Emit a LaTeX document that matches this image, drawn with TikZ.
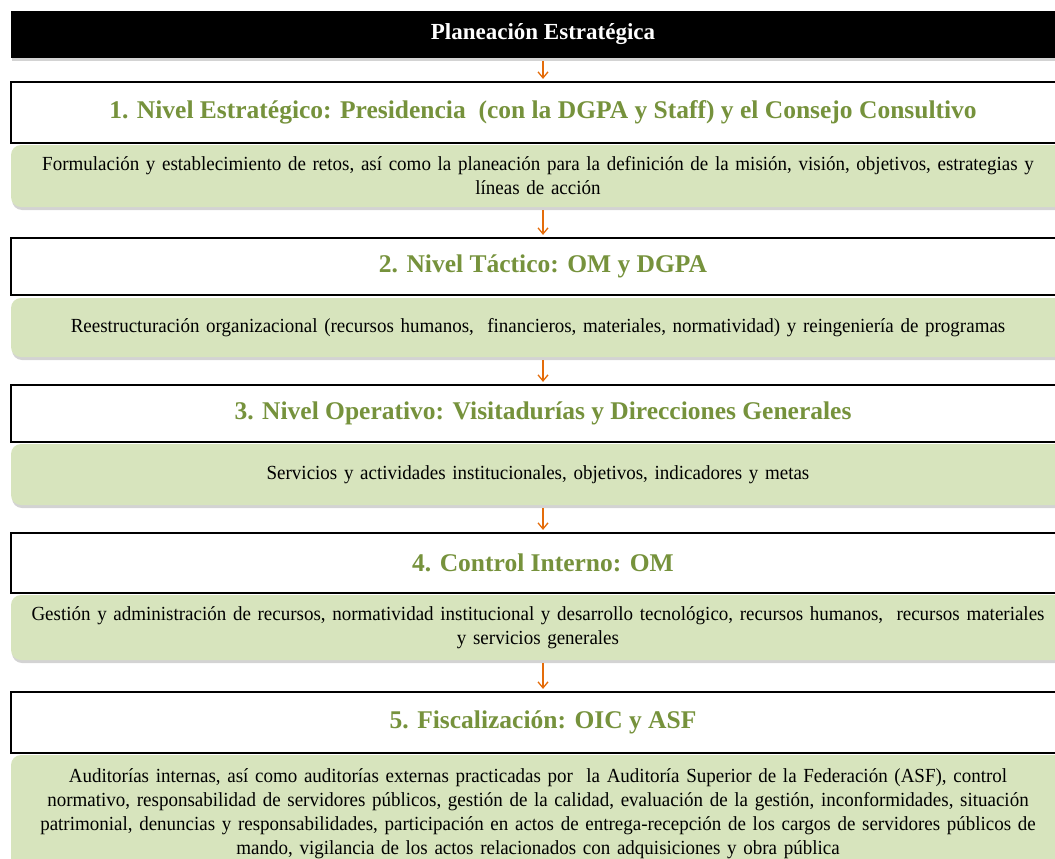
\documentclass[tikz,border=0pt]{standalone}
\usepackage{fontspec}
\setmainfont{Liberation Serif}
\newfontfamily\bodyfont[FakeStretch=0.95]{Liberation Serif}
\usetikzlibrary{arrows.meta,shadows}
\definecolor{olivetext}{RGB}{118,146,60}
\definecolor{sagefill}{RGB}{215,228,189}
\definecolor{arroworange}{RGB}{228,108,10}
\hyphenpenalty=10000

\begin{document}
\begin{tikzpicture}[x=1pt,y=-1pt]
	\useasboundingbox (0,0) rectangle (1055,859);
	\begin{scope}[every node/.style={rectangle,minimum width=1064pt,inner sep=0pt},
	              level/.style={draw=black,line width=2.2pt,fill=white,text=olivetext,
	                            font=\bfseries\fontsize{25.5}{29}\selectfont},
	              detail/.style={fill=sagefill,rounded corners=10pt,minimum width=1054pt,
	                             text width=1045pt,align=center,
	                             font=\bodyfont\fontsize{20}{24}\selectfont,
	                             drop shadow={opacity=0.35,shadow xshift=1pt,shadow yshift=-3pt}}]
	    \node[fill=black,text=white,font=\bfseries\fontsize{23}{27}\selectfont,minimum height=47pt,
	          drop shadow={opacity=0.35,shadow xshift=1pt,shadow yshift=-3pt}] (0) at (543,34.5) {Planeación Estratégica};
	    \node[level,minimum height=61pt] (1) at (543,112.5) {1. Nivel Estratégico: Presidencia \ (con la DGPA y Staff) y el Consejo Consultivo};
	    \node[detail,minimum height=62pt] (1d) at (538,176) {Formulación y establecimiento de retos, así como la planeación para la definición de la misión, visión, objetivos, estrategias y\\ líneas de acción};
	    \node[level,minimum height=57pt] (2) at (543,266.5) {2. Nivel Táctico: OM y DGPA};
	    \node[detail,minimum height=59pt] (2d) at (538,327.5) {Reestructuración organizacional (recursos humanos, \ financieros, materiales, normatividad) y reingeniería de programas};
	    \node[level,minimum height=57pt] (3) at (543,413.5) {3. Nivel Operativo: Visitadurías y Direcciones Generales};
	    \node[detail,minimum height=61pt] (3d) at (538,474.5) {Servicios y actividades institucionales, objetivos, indicadores y metas};
	    \node[level,minimum height=60pt] (4) at (543,563) {4. Control Interno: OM};
	    \node[detail,minimum height=65pt] (4d) at (538,627.5) {Gestión y administración de recursos, normatividad institucional y desarrollo tecnológico, recursos humanos, \ recursos materiales\\ y servicios generales};
	    \node[level,minimum height=61pt] (5) at (543,722.5) {5. Fiscalización: OIC y ASF};
	    \node[detail,minimum height=118pt] (5d) at (538,814) {Auditorías internas, así como auditorías externas practicadas por \ la Auditoría Superior de la Federación (ASF), control\\ normativo, responsabilidad de servidores públicos, gestión de la calidad, evaluación de la gestión, inconformidades, situación\\ patrimonial, denuncias y responsabilidades, participación en actos de entrega-recepción de los cargos de servidores públicos de\\ mando, vigilancia de los actos relacionados con adquisiciones y obra pública};
	\end{scope}

	\begin{scope}[>={Straight Barb[length=6pt,width=10pt]},
	              every edge/.style={draw=arroworange,line width=1.3pt,shorten <=3pt,shorten >=2pt}]
	    \path (0) edge[->] (1);
	    \path (1d.south -| 1) edge[->] (2);
	    \path (2d.south -| 2) edge[->] (3);
	    \path (3d.south -| 3) edge[->] (4);
	    \path (4d.south -| 4) edge[->] (5);
	\end{scope}
\end{tikzpicture}
\end{document}
